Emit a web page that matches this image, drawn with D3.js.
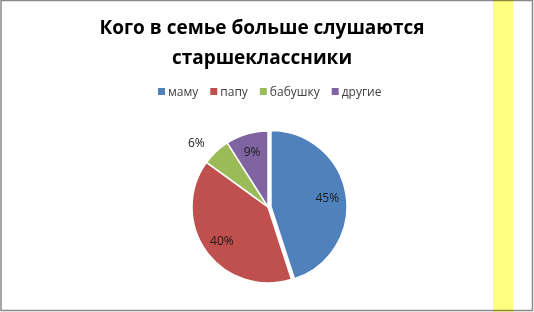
<!DOCTYPE html>
<html>
<head>
<meta charset="utf-8">
<script src="https://cdn.jsdelivr.net/npm/d3@7"></script>
<style>
  body { margin: 0; background: #fff; }
  svg { display: block; }
</style>
</head>
<body>
<svg id="chart" width="534" height="312"></svg>
<script>
// data
var titleLines = ["Кого в семье больше слушаются", "старшеклассники"];
var categories = ["маму", "папу", "бабушку", "другие"];
var values = [45, 40, 6, 9];
var colors = ["#4F81BD", "#C0504D", "#9BBB59", "#8064A2"];

var svg = d3.select("#chart");
var width = 534, height = 312;

// frame
svg.append("rect")
    .attr("x", 1).attr("y", 0.5)
    .attr("width", 531.5).attr("height", 310)
    .attr("fill", "#fff")
    .attr("stroke", "#8a8a8a")
    .attr("stroke-width", 1.5);

// title
var title = svg.append("text")
    .attr("text-anchor", "middle")
    .style("font-family", "'Open Sans', sans-serif")
    .style("font-weight", "bold")
    .style("font-size", "19px")
    .attr("fill", "#000");
titleLines.forEach(function (t, i) {
    title.append("tspan")
        .attr("x", 262)
        .attr("y", 34 + i * 30)
        .text(t);
});

// legend, laid out left to right
var color = d3.scaleOrdinal().domain(categories).range(colors);
var legend = svg.append("g").attr("transform", "translate(158,92)");
var lx = 0;
categories.forEach(function (c) {
    var item = legend.append("g").attr("transform", "translate(" + lx + ",0)");
    item.append("rect")
        .attr("x", 0).attr("y", -4)
        .attr("width", 7).attr("height", 7)
        .attr("fill", color(c));
    var txt = item.append("text")
        .attr("x", 10).attr("y", 4)
        .style("font-family", "'Open Sans', sans-serif")
        .style("font-size", "12px")
        .attr("fill", "#404040")
        .text(c);
    lx += 10 + txt.node().getComputedTextLength() + 12;
});

// pie
var cx = 268, cy = 207, r = 76;
var pie = d3.pie().sort(null).value(function (d) { return d.value; });
var arcs = pie(categories.map(function (c, i) { return { name: c, value: values[i] }; }));
var arc = d3.arc().innerRadius(0).outerRadius(r);
var labelArc = d3.arc().innerRadius(r * 0.75).outerRadius(r * 0.75);
var outerArc = d3.arc().innerRadius(r + 20).outerRadius(r + 20);

var g = svg.append("g").attr("transform", "translate(" + cx + "," + cy + ")");

function explode(d, i) {
    // first slice pulled out a little
    if (i !== 0) return [0, 0];
    var a = (d.startAngle + d.endAngle) / 2;
    return [Math.sin(a) * 3, -Math.cos(a) * 3];
}

g.selectAll("path")
    .data(arcs)
    .enter()
    .append("path")
    .attr("d", arc)
    .attr("transform", function (d, i) {
        var o = explode(d, i);
        return "translate(" + o[0] + "," + o[1] + ")";
    })
    .attr("fill", function (d) { return color(d.data.name); })
    .attr("stroke", "#fff")
    .attr("stroke-width", 1.5);

g.selectAll("text.lbl")
    .data(arcs)
    .enter()
    .append("text")
    .attr("class", "lbl")
    .attr("transform", function (d, i) {
        var o = explode(d, i);
        var p = d.data.value < 7 ? outerArc.centroid(d) : labelArc.centroid(d);
        if (d.data.value < 7) { p[0] -= 6; p[1] += 6; }
        return "translate(" + (p[0] + o[0]) + "," + (p[1] + o[1]) + ")";
    })
    .attr("text-anchor", "middle")
    .attr("dy", "0.35em")
    .style("font-family", "'Open Sans', sans-serif")
    .style("font-size", "12px")
    .attr("fill", "#1a1a1a")
    .text(function (d) { return d.data.value + "%"; });

// yellow stripe on the right
svg.append("rect")
    .attr("x", 493).attr("y", 0)
    .attr("width", 20).attr("height", height)
    .attr("fill", "#ffff80")
    .style("mix-blend-mode", "multiply");
</script>
</body>
</html>
